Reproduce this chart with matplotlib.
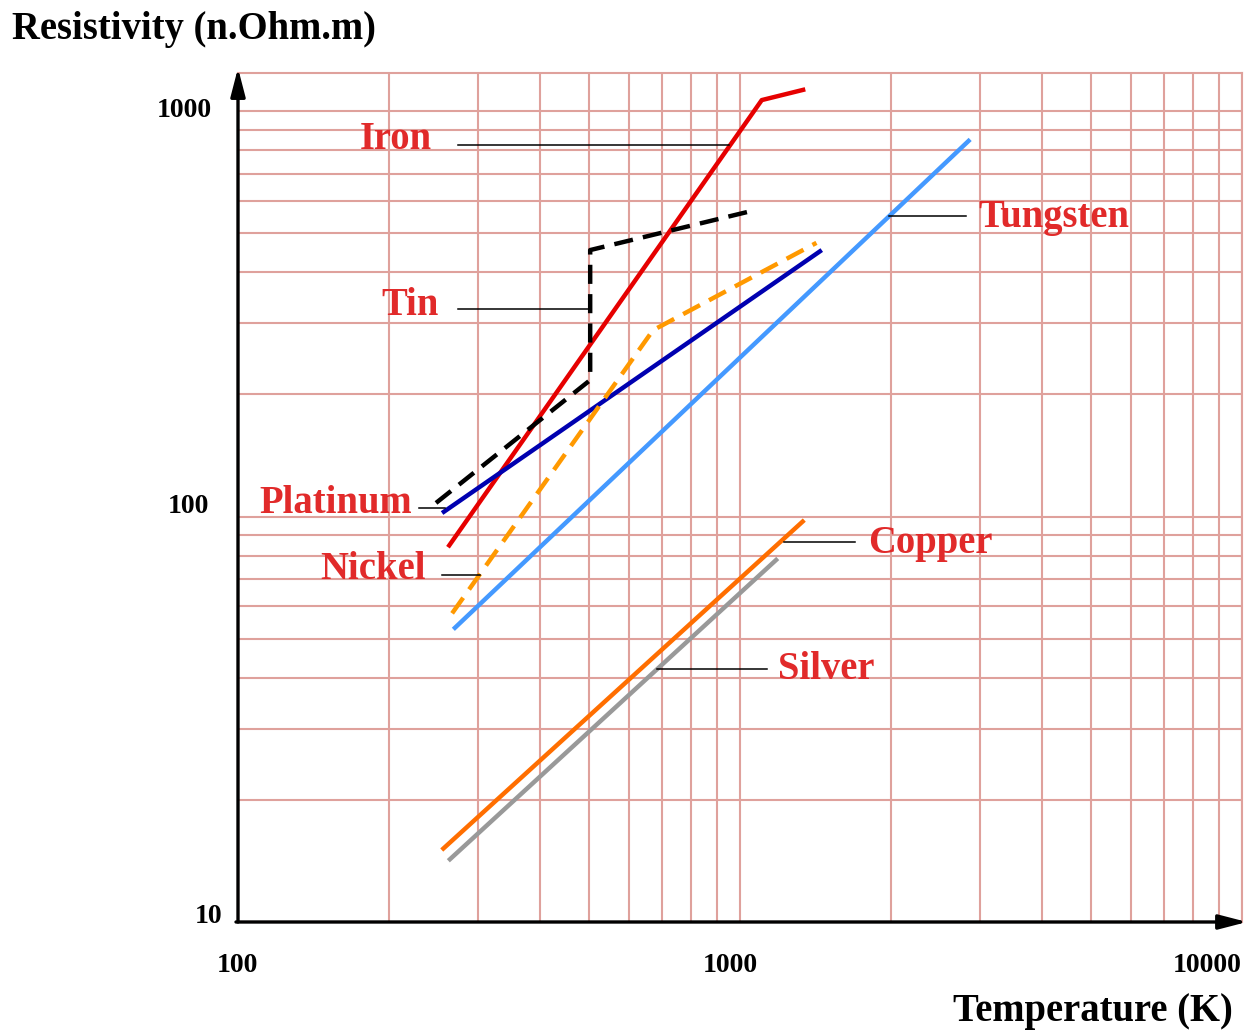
import matplotlib
matplotlib.use('Agg')
import matplotlib.pyplot as plt
from matplotlib.transforms import blended_transform_factory, offset_copy
from matplotlib.ticker import LogLocator, NullFormatter

# ---------------- data (temperature in K, resistivity in n.Ohm.m) ----------------
iron_T = [262, 1105, 1349]
iron_R = [84, 1064, 1131]
tin_T = [248, 503, 503, 1074]
tin_R = [108, 217, 454, 570]
platinum_T = [255, 1455]
platinum_R = [102, 454]
nickel_T = [267, 671, 1420]
nickel_R = [57.7, 288, 473]
tungsten_T = [268.5, 2874]
tungsten_R = [52.7, 851]
copper_T = [254.6, 1343]
copper_R = [15.05, 98.0]
silver_T = [262.4, 1189]
silver_R = [14.16, 78.8]

x_ticks = [100, 1000, 10000]
x_tick_labels = ['100', '1000', '10000']
y_ticks = [10, 100, 1000]
y_tick_labels = ['10', '100', '1000']

# annotation labels and leader lines (data coordinates)
label_names = ['Iron', 'Tin', 'Platinum', 'Nickel', 'Tungsten', 'Copper', 'Silver']
label_T = [243.2, 250.6, 221.8, 236.1, 2979, 1797, 1192]
label_R = [804.6, 314, 101.8, 70.0, 518.5, 81.4, 39.7]
label_ha = ['right', 'right', 'right', 'right', 'left', 'left', 'left']
leader_T0 = [274.8, 274.8, 229.7, 254.9, 1981, 1223, 682.6]
leader_T1 = [950.9, 501, 258.4, 303.4, 2815, 1695, 1130]
leader_R = [824.6, 324.3, 104.8, 71.9, 550.8, 86.7, 42.1]

# ---------------- styling ----------------
plt.rcParams['font.family'] = ['Liberation Serif', 'DejaVu Serif']
W, H = 1258, 1032
GRID = '#dfa19c'
RED_TXT = '#e12a2a'
FS_BIG = 27.8
FS_TICK = 20

fig = plt.figure(figsize=(W / 100, H / 100), dpi=100)
ax_left, ax_right, ax_top, ax_bot = 238, 1242, 72.7, 922
ax = fig.add_axes([ax_left / W, 1 - ax_bot / H, (ax_right - ax_left) / W, (ax_bot - ax_top) / H])
ax.set_xscale('log')
ax.set_yscale('log')
ax.set_xlim(100, 10000)
ax.set_ylim(10, 1243)

ax.xaxis.set_major_locator(LogLocator(base=10, numticks=10))
ax.xaxis.set_minor_locator(LogLocator(base=10, subs=range(2, 10), numticks=20))
ax.yaxis.set_major_locator(LogLocator(base=10, numticks=10))
ax.yaxis.set_minor_locator(LogLocator(base=10, subs=range(2, 10), numticks=20))
ax.xaxis.set_minor_formatter(NullFormatter())
ax.yaxis.set_minor_formatter(NullFormatter())
ax.tick_params(which='both', length=0, labelleft=False, labelbottom=False)
ax.grid(which='both', color=GRID, lw=1.5)
ax.set_axisbelow(True)

for s in ['top', 'right']:
    ax.spines[s].set_color(GRID)
    ax.spines[s].set_linewidth(1.5)
for s in ['left', 'bottom']:
    ax.spines[s].set_visible(False)

# axis arrows
arrow_kw = dict(arrowstyle='-|>,head_length=0.85,head_width=0.22', lw=2.4, color='black',
                mutation_scale=20, shrinkA=0, shrinkB=0)
ax.annotate('', xy=(0, 1.0055), xytext=(0, 0), xycoords='axes fraction',
            arrowprops=arrow_kw, annotation_clip=False)
ax.annotate('', xy=(1.005, 0), xytext=(-0.002, 0), xycoords='axes fraction',
            arrowprops=arrow_kw, annotation_clip=False)

# ---------------- curves ----------------
LW = 3.2
dash = (4.3, 2.3)
ax.plot(iron_T, iron_R, color='#e60000', lw=LW, solid_capstyle='butt', zorder=3)
ax.plot(tin_T, tin_R, color='black', lw=LW, dashes=dash, zorder=3)
ax.plot(platinum_T, platinum_R, color='#0000b0', lw=LW, solid_capstyle='butt', zorder=3)
ax.plot(nickel_T, nickel_R, color='#ff9900', lw=LW, dashes=dash, zorder=3)
ax.plot(tungsten_T, tungsten_R, color='#4499ff', lw=LW, solid_capstyle='butt', zorder=3)
ax.plot(copper_T, copper_R, color='#ff6e00', lw=LW, solid_capstyle='butt', zorder=3)
ax.plot(silver_T, silver_R, color='#999999', lw=LW, solid_capstyle='butt', zorder=3)

# ---------------- labels and leader lines ----------------
for name, tx, ty, ha, t0, t1, lr in zip(label_names, label_T, label_R, label_ha,
                                       leader_T0, leader_T1, leader_R):
    ax.plot([t0, t1], [lr, lr], color='black', lw=1.1, zorder=4)
    ax.text(tx, ty, name, ha=ha, va='baseline', color=RED_TXT, fontsize=FS_BIG,
            fontweight='bold', zorder=5)

# ---------------- tick labels ----------------
ytrans = blended_transform_factory(ax.transAxes, ax.transData)
y_dx = [-15.3, -28.7, -25.7]
y_dy = [-0.7, 3.2, -6.3]
for v, lab, dx, dy in zip(y_ticks, y_tick_labels, y_dx, y_dy):
    ax.text(0, v, lab, ha='right', va='baseline', fontsize=FS_TICK, fontweight='bold',
            transform=offset_copy(ytrans, fig=fig, x=dx, y=dy, units='dots'), clip_on=False)

xtrans = blended_transform_factory(ax.transData, ax.transAxes)
x_dx = [-0.4, -10, -35]
for v, lab, dx in zip(x_ticks, x_tick_labels, x_dx):
    ax.text(v, 0, lab, ha='center', va='baseline', fontsize=FS_TICK, fontweight='bold',
            transform=offset_copy(xtrans, fig=fig, x=dx, y=-50, units='dots'), clip_on=False)

# ---------------- axis titles ----------------
fig.text(11.7 / W, 1 - 39.5 / H, 'Resistivity (n.Ohm.m)', ha='left', va='baseline',
         fontsize=FS_BIG, fontweight='bold')
fig.text(1233 / W, 1 - 1021 / H, 'Temperature (K)', ha='right', va='baseline',
         fontsize=FS_BIG, fontweight='bold')

fig.savefig('out.png', dpi=100)
